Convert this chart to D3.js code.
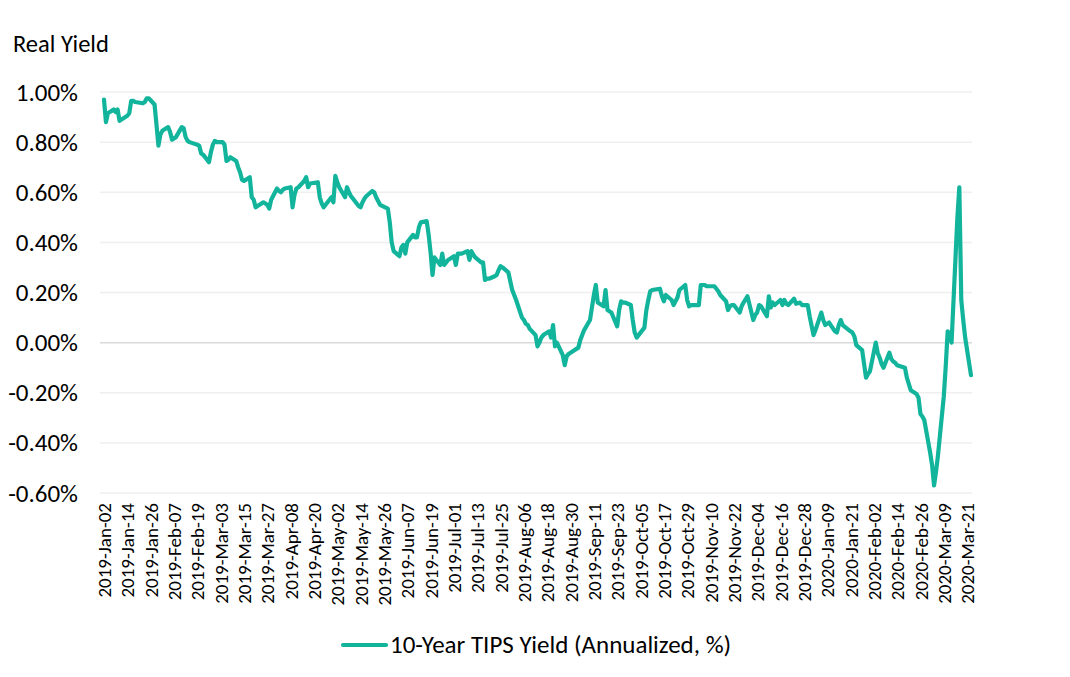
<!DOCTYPE html>
<html>
<head>
<meta charset="utf-8">
<script src="https://cdn.jsdelivr.net/npm/d3@7"></script>
<style>
  body { margin: 0; background: #fff; }
  svg { display: block; }
</style>
</head>
<body>
<div id="chart"></div>
<script>
// 10-year TIPS real yield, %
const dates = [
  "2019-01-02","2019-01-03","2019-01-04","2019-01-07","2019-01-08","2019-01-09","2019-01-10","2019-01-11",
  "2019-01-14","2019-01-15","2019-01-16","2019-01-17","2019-01-18","2019-01-22","2019-01-23","2019-01-24",
  "2019-01-25","2019-01-28","2019-01-29","2019-01-30","2019-01-31","2019-02-01","2019-02-04","2019-02-05",
  "2019-02-06","2019-02-07","2019-02-08","2019-02-11","2019-02-12","2019-02-13","2019-02-14","2019-02-15",
  "2019-02-19","2019-02-20","2019-02-21","2019-02-22","2019-02-25","2019-02-26","2019-02-27","2019-02-28",
  "2019-03-01","2019-03-04","2019-03-05","2019-03-06","2019-03-07","2019-03-08","2019-03-11","2019-03-12",
  "2019-03-13","2019-03-14","2019-03-15","2019-03-18","2019-03-19","2019-03-20","2019-03-21","2019-03-22",
  "2019-03-25","2019-03-26","2019-03-27","2019-03-28","2019-03-29","2019-04-01","2019-04-02","2019-04-03",
  "2019-04-04","2019-04-05","2019-04-08","2019-04-09","2019-04-10","2019-04-11","2019-04-12","2019-04-15",
  "2019-04-16","2019-04-17","2019-04-18","2019-04-22","2019-04-23","2019-04-24","2019-04-25","2019-04-26",
  "2019-04-29","2019-04-30","2019-05-01","2019-05-02","2019-05-03","2019-05-06","2019-05-07","2019-05-08",
  "2019-05-09","2019-05-10","2019-05-13","2019-05-14","2019-05-15","2019-05-16","2019-05-17","2019-05-20",
  "2019-05-21","2019-05-22","2019-05-23","2019-05-24","2019-05-28","2019-05-29","2019-05-30","2019-05-31",
  "2019-06-03","2019-06-04","2019-06-05","2019-06-06","2019-06-07","2019-06-10","2019-06-11","2019-06-12",
  "2019-06-13","2019-06-14","2019-06-17","2019-06-18","2019-06-19","2019-06-20","2019-06-21","2019-06-24",
  "2019-06-25","2019-06-26","2019-06-27","2019-06-28","2019-07-01","2019-07-02","2019-07-03","2019-07-05",
  "2019-07-08","2019-07-09","2019-07-10","2019-07-11","2019-07-12","2019-07-15","2019-07-16","2019-07-17",
  "2019-07-18","2019-07-19","2019-07-22","2019-07-23","2019-07-24","2019-07-25","2019-07-26","2019-07-29",
  "2019-07-30","2019-07-31","2019-08-01","2019-08-02","2019-08-05","2019-08-06","2019-08-07","2019-08-08",
  "2019-08-09","2019-08-12","2019-08-13","2019-08-14","2019-08-15","2019-08-16","2019-08-19","2019-08-20",
  "2019-08-21","2019-08-22","2019-08-23","2019-08-26","2019-08-27","2019-08-28","2019-08-29","2019-08-30",
  "2019-09-03","2019-09-04","2019-09-05","2019-09-06","2019-09-09","2019-09-10","2019-09-11","2019-09-12",
  "2019-09-13","2019-09-16","2019-09-17","2019-09-18","2019-09-19","2019-09-20","2019-09-23","2019-09-24",
  "2019-09-25","2019-09-26","2019-09-27","2019-09-30","2019-10-01","2019-10-02","2019-10-03","2019-10-04",
  "2019-10-07","2019-10-08","2019-10-09","2019-10-10","2019-10-11","2019-10-15","2019-10-16","2019-10-17",
  "2019-10-18","2019-10-21","2019-10-22","2019-10-23","2019-10-24","2019-10-25","2019-10-28","2019-10-29",
  "2019-10-30","2019-10-31","2019-11-01","2019-11-04","2019-11-05","2019-11-06","2019-11-07","2019-11-08",
  "2019-11-12","2019-11-13","2019-11-14","2019-11-15","2019-11-18","2019-11-19","2019-11-20","2019-11-21",
  "2019-11-22","2019-11-25","2019-11-26","2019-11-27","2019-11-29","2019-12-02","2019-12-03","2019-12-04",
  "2019-12-05","2019-12-06","2019-12-09","2019-12-10","2019-12-11","2019-12-12","2019-12-13","2019-12-16",
  "2019-12-17","2019-12-18","2019-12-19","2019-12-20","2019-12-23","2019-12-24","2019-12-26","2019-12-27",
  "2019-12-30","2019-12-31","2020-01-02","2020-01-03","2020-01-06","2020-01-07","2020-01-08","2020-01-09",
  "2020-01-10","2020-01-13","2020-01-14","2020-01-15","2020-01-16","2020-01-17","2020-01-21","2020-01-22",
  "2020-01-23","2020-01-24","2020-01-27","2020-01-28","2020-01-29","2020-01-30","2020-01-31","2020-02-03",
  "2020-02-04","2020-02-05","2020-02-06","2020-02-07","2020-02-10","2020-02-11","2020-02-12","2020-02-13",
  "2020-02-14","2020-02-18","2020-02-19","2020-02-20","2020-02-21","2020-02-24","2020-02-25","2020-02-26",
  "2020-02-27","2020-02-28","2020-03-02","2020-03-03","2020-03-04","2020-03-05","2020-03-06","2020-03-09",
  "2020-03-10","2020-03-11","2020-03-12","2020-03-13","2020-03-16","2020-03-17","2020-03-18","2020-03-19",
  "2020-03-20","2020-03-23"
];
const yields = [
  0.97, 0.88, 0.915, 0.93, 0.92, 0.93, 0.885, 0.89,
  0.905, 0.915, 0.965, 0.965, 0.96, 0.955, 0.96, 0.975,
  0.975, 0.95, 0.87, 0.786, 0.83, 0.845, 0.86, 0.84,
  0.81, 0.815, 0.82, 0.86, 0.855, 0.82, 0.805, 0.80,
  0.79, 0.785, 0.755, 0.75, 0.72, 0.76, 0.79, 0.805,
  0.80, 0.80, 0.79, 0.725, 0.73, 0.74, 0.725, 0.70,
  0.68, 0.65, 0.645, 0.66, 0.58, 0.57, 0.54, 0.545,
  0.56, 0.555, 0.55, 0.535, 0.57, 0.615, 0.605, 0.60,
  0.61, 0.615, 0.62, 0.54, 0.59, 0.615, 0.62, 0.645,
  0.66, 0.62, 0.635, 0.64, 0.58, 0.555, 0.54, 0.55,
  0.58, 0.56, 0.665, 0.64, 0.62, 0.58, 0.62, 0.60,
  0.585, 0.575, 0.545, 0.54, 0.56, 0.575, 0.585, 0.605,
  0.60, 0.58, 0.565, 0.55, 0.535, 0.48, 0.40, 0.365,
  0.345, 0.38, 0.39, 0.355, 0.40, 0.43, 0.42, 0.42,
  0.46, 0.48, 0.485, 0.43, 0.36, 0.27, 0.34, 0.31,
  0.355, 0.31, 0.32, 0.33, 0.345, 0.31, 0.355, 0.355,
  0.365, 0.33, 0.365, 0.35, 0.34, 0.32, 0.32, 0.25,
  0.255, 0.255, 0.265, 0.27, 0.29, 0.305, 0.30, 0.28,
  0.245, 0.21, 0.19, 0.17, 0.10, 0.09, 0.075, 0.07,
  0.055, 0.03, -0.015, 0.00, 0.02, 0.03, 0.045, 0.02,
  0.07, -0.015, 0.00, -0.05, -0.09, -0.055, -0.045, -0.04,
  -0.02, 0.01, 0.03, 0.05, 0.09, 0.14, 0.19, 0.23,
  0.16, 0.145, 0.21, 0.13, 0.125, 0.12, 0.065, 0.13,
  0.165, 0.16, 0.16, 0.15, 0.09, 0.04, 0.02, 0.03,
  0.06, 0.13, 0.17, 0.205, 0.21, 0.215, 0.185, 0.165,
  0.19, 0.17, 0.15, 0.165, 0.18, 0.21, 0.23, 0.17,
  0.145, 0.15, 0.15, 0.15, 0.23, 0.23, 0.23, 0.225,
  0.225, 0.215, 0.205, 0.19, 0.165, 0.13, 0.145, 0.15,
  0.15, 0.12, 0.145, 0.16, 0.185, 0.09, 0.11, 0.12,
  0.15, 0.145, 0.105, 0.185, 0.14, 0.16, 0.15, 0.17,
  0.15, 0.17, 0.155, 0.15, 0.175, 0.155, 0.16, 0.15,
  0.15, 0.105, 0.03, 0.05, 0.12, 0.09, 0.07, 0.075,
  0.08, 0.045, 0.04, 0.07, 0.09, 0.07, 0.045, 0.04,
  0.025, -0.01, -0.03, -0.085, -0.14, -0.125, -0.115, 0.00,
  -0.04, -0.06, -0.085, -0.10, -0.04, -0.065, -0.075, -0.08,
  -0.09, -0.10, -0.14, -0.165, -0.19, -0.205, -0.22, -0.285,
  -0.295, -0.31, -0.44, -0.49, -0.57, -0.515, -0.45, -0.215,
  -0.095, 0.045, 0.035, 0.00, 0.50, 0.62, 0.17, 0.09,
  0.02, -0.13
];
const yTicks = [-0.6, -0.4, -0.2, 0, 0.2, 0.4, 0.6, 0.8, 1.0];
const axisTitle = "Real Yield";
const seriesName = "10-Year TIPS Yield (Annualized, %)";

const width = 1070, height = 677;
const font = "Calibri, Carlito, Lato, sans-serif";
const teal = "#12b59c";
const plotLeft = 100, plotRight = 972, plotTop = 92, plotBottom = 493;

const parse = d3.timeParse("%Y-%m-%d");
const data = dates.map((d, i) => ({date: parse(d), value: yields[i]}));

const x = d3.scaleTime()
    .domain(d3.extent(data, d => d.date))
    .range([104, 971]);
const y = d3.scaleLinear()
    .domain([-0.6, 1.0])
    .range([plotBottom, plotTop]);

// Excel-style date axis: a label every 12 days from the first date
const xTicks = d3.timeDay.range(x.domain()[0], d3.timeDay.offset(x.domain()[1], 1), 12);

const svg = d3.select("#chart").append("svg")
    .attr("width", width)
    .attr("height", height)
    .style("font-family", font);

svg.append("rect").attr("width", width).attr("height", height).attr("fill", "#fff");

// gridlines
svg.append("g")
  .selectAll("line")
  .data(yTicks)
  .join("line")
    .attr("x1", plotLeft)
    .attr("x2", plotRight)
    .attr("y1", d => y(d))
    .attr("y2", d => y(d))
    .attr("stroke", d => d === 0 ? "#d9d9d9" : "#efefef")
    .attr("stroke-width", 1.5);

// y axis labels
const yAxis = svg.append("g")
    .attr("transform", `translate(${plotLeft},0)`)
    .call(d3.axisLeft(y).tickValues(yTicks).tickSize(0).tickPadding(22)
        .tickFormat(d => d.toFixed(2) + "%"));
yAxis.select(".domain").remove();
yAxis.selectAll("text")
    .attr("font-family", font)
    .attr("font-size", 25)
    .attr("fill", "#000");

// x axis labels, rotated
const xAxis = svg.append("g")
    .attr("transform", `translate(0,${plotBottom})`)
    .call(d3.axisBottom(x).tickValues(xTicks).tickSize(0)
        .tickFormat(d3.timeFormat("%Y-%b-%d")));
xAxis.select(".domain").remove();
xAxis.selectAll("text")
    .attr("font-family", font)
    .attr("font-size", 19)
    .attr("fill", "#000")
    .attr("text-anchor", "end")
    .attr("transform", "rotate(-90)")
    .attr("x", -10)
    .attr("y", 0)
    .attr("dy", "0.35em");

// series line
const line = d3.line()
    .x(d => x(d.date))
    .y(d => y(d.value));

svg.append("path")
    .datum(data)
    .attr("fill", "none")
    .attr("stroke", teal)
    .attr("stroke-width", 4.2)
    .attr("stroke-linejoin", "round")
    .attr("stroke-linecap", "round")
    .attr("d", line);

// axis title
svg.append("text")
    .attr("x", 13)
    .attr("y", 52)
    .attr("font-size", 24.5)
    .attr("fill", "#000")
    .text(axisTitle);

// legend
const legend = svg.append("g").attr("transform", "translate(343,645)");
legend.append("line")
    .attr("x1", 0).attr("x2", 43)
    .attr("stroke", teal)
    .attr("stroke-width", 4.2)
    .attr("stroke-linecap", "round");
legend.append("text")
    .attr("x", 47)
    .attr("y", 8)
    .attr("font-size", 25)
    .attr("fill", "#000")
    .text(seriesName);
</script>
</body>
</html>
